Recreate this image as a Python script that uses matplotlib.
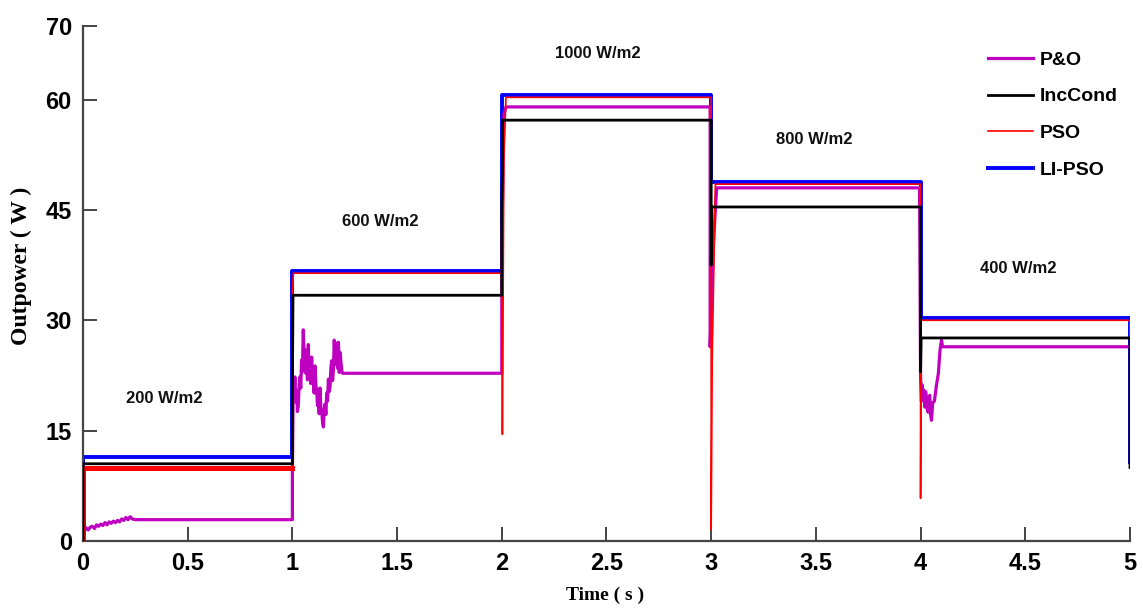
import matplotlib
matplotlib.use("Agg")
import matplotlib.pyplot as plt

# ---- data (time in s, power in W) ----
# P&O: slow start, oscillating transients after each irradiance change
po_t = [0.0, 0.005, 0.015, 0.025, 0.035, 0.045, 0.055, 0.065, 0.075, 0.085, 0.095, 0.105,
        0.115, 0.125, 0.135, 0.145, 0.155, 0.165, 0.175, 0.185, 0.195, 0.205, 0.215, 0.225,
        0.235, 0.25,
        1.0, 1.0, 1.004, 1.008, 1.012, 1.016, 1.02, 1.024, 1.028, 1.032, 1.036, 1.04, 1.044,
        1.048, 1.052, 1.056, 1.06, 1.064, 1.068, 1.072, 1.076, 1.08, 1.084, 1.088, 1.092,
        1.096, 1.10, 1.104, 1.108, 1.112, 1.116, 1.12, 1.124, 1.128, 1.132, 1.136, 1.14,
        1.144, 1.148, 1.152, 1.156, 1.16, 1.164, 1.168, 1.172, 1.176, 1.18, 1.184, 1.188,
        1.192, 1.196, 1.20, 1.204, 1.208, 1.212, 1.216, 1.22, 1.224, 1.228, 1.232, 1.236, 1.24,
        2.0, 2.0, 2.01, 2.02,
        2.995, 2.995, 3.01, 3.026,
        3.995, 4.0, 4.004, 4.008, 4.012, 4.016, 4.02, 4.024, 4.028, 4.032, 4.036, 4.04, 4.044,
        4.048, 4.052, 4.058, 4.066, 4.075, 4.085, 4.093, 4.10, 4.105, 5.0]
po_p = [0.5, 1.3, 1.8, 1.5, 1.9, 2.0, 1.7, 2.2, 2.0, 2.3, 2.1, 2.5,
        2.2, 2.6, 2.4, 2.7, 2.5, 2.8, 2.6, 3.0, 2.8, 3.2, 2.9, 3.3,
        3.0, 2.9,
        2.9, 9.0, 21.4, 19.6, 22.3, 18.9, 20.5, 17.6, 18.3, 21.0, 22.3, 20.8, 24.6,
        23.0, 28.7, 25.2, 26.0, 22.8, 24.2, 21.9, 26.7, 23.1, 23.5, 21.4, 25.0,
        22.6, 22.0, 20.1, 23.8, 21.2, 20.6, 18.4, 19.2, 17.3, 20.8, 18.1, 17.8,
        16.2, 15.5, 17.9, 18.6, 17.2, 20.1, 19.0, 22.0, 20.3, 21.0, 23.6, 24.5,
        21.8, 23.2, 27.3, 24.0, 24.8, 26.9, 23.5, 27.0, 22.9, 25.6, 24.3, 23.1, 22.8,
        22.8, 40.0, 58.0, 59.0,
        59.0, 26.4, 40.0, 48.0,
        48.0, 22.3, 19.0, 21.2, 19.5, 20.5, 18.2, 20.3, 19.6, 17.9, 17.5, 19.4, 19.8,
        17.2, 16.4, 18.8, 19.0, 21.0, 22.8, 26.0, 27.3, 26.4, 26.4]

# IncCond
inc_t = [0.0, 0.0, 1.0, 1.0, 1.003, 1.003, 2.0, 2.0, 2.0, 2.003, 2.003,
         3.0, 3.0, 3.0, 3.003, 4.0, 4.0, 4.0, 4.003, 5.0, 5.0]
inc_p = [0.0, 10.5, 10.5, 20.0, 33.4, 33.4, 33.4, 37.0, 45.0, 50.0, 57.2,
         57.2, 42.7, 37.5, 45.4, 45.4, 35.0, 23.0, 27.6, 27.6, 10.0]

# PSO
pso_t = [0.0, 0.0, 1.0, 1.0, 1.005, 2.0, 2.003, 2.01, 2.02, 2.02,
         3.0, 3.0, 3.005, 3.02, 4.0, 4.0, 4.003, 5.0, 5.0]
pso_p = [0.0, 9.9, 9.9, 34.0, 36.4, 36.4, 14.5, 52.0, 60.3, 60.3,
         60.3, 1.5, 25.0, 48.5, 48.5, 5.8, 30.0, 30.0, 10.0]

# LI-PSO
li_t = [0.0, 0.0, 1.0, 1.0, 2.0, 2.0, 3.0, 3.0, 4.0, 4.0, 5.0, 5.0]
li_p = [0.0, 11.4, 11.4, 36.7, 36.7, 60.6, 60.6, 48.8, 48.8, 30.3, 30.3, 10.7]

# irradiance labels (text, t, P)
irr_labels = ["200 W/m2", "600 W/m2", "1000 W/m2", "800 W/m2", "400 W/m2"]
irr_t = [0.39, 1.42, 2.46, 3.49, 4.465]
irr_p = [19.4, 43.4, 66.3, 54.6, 37.1]

x_ticks = [0, 0.5, 1, 1.5, 2, 2.5, 3, 3.5, 4, 4.5, 5]
x_tick_labels = ["0", "0.5", "1", "1.5", "2", "2.5", "3", "3.5", "4", "4.5", "5"]
y_ticks = [0, 15, 30, 45, 60, 70]

fig = plt.figure(figsize=(11.43, 6.10), dpi=100)
ax = fig.add_axes([0.0726, 0.1131, 0.916, 0.8443])

ax.plot(li_t, li_p, color="#0000ff", lw=2.8, label="LI-PSO", zorder=2)
ax.plot(po_t, po_p, color="#c000c0", lw=2.3, label="P&O", zorder=3)
# PSO oscillation band during the first interval
ax.plot(pso_t[:3], pso_p[:3], color="#ff0000", lw=3.6, zorder=3.5)
ax.plot(pso_t, pso_p, color="#ff0000", lw=1.2, label="PSO", zorder=3.6)
ax.plot(inc_t, inc_p, color="#000000", lw=2.0, label="IncCond", zorder=4)

for txt, t, p in zip(irr_labels, irr_t, irr_p):
    ax.text(t, p, txt, ha="center", va="center", fontsize=12, fontweight="bold",
            family="Liberation Sans", color="#111111")

ax.set_xlim(0, 5)
ax.set_ylim(0, 70)
ax.set_xticks(x_ticks)
ax.set_xticklabels(x_tick_labels)
ax.set_yticks(y_ticks)

for s in ("top", "right"):
    ax.spines[s].set_visible(False)
for s in ("left", "bottom"):
    ax.spines[s].set_color("#444444")
    ax.spines[s].set_linewidth(1.6)

ax.tick_params(direction="in", length=10, width=1.4, color="#444444", pad=8)
for lbl in ax.get_xticklabels() + ax.get_yticklabels():
    lbl.set_family("Liberation Sans")
    lbl.set_fontweight("bold")
    lbl.set_fontsize(17)

ax.set_xlabel("Time ( s )", family="Liberation Serif", fontweight="bold", fontsize=14)
ax.xaxis.set_label_coords(0.4985, -0.088)
ax.set_ylabel("Outpower ( W )", family="Liberation Serif", fontweight="bold", fontsize=17)
ax.yaxis.set_label_coords(-0.049, 0.534)

handles, labels = ax.get_legend_handles_labels()
order = ["P&O", "IncCond", "PSO", "LI-PSO"]
hmap = dict(zip(labels, handles))
leg = ax.legend([hmap[k] for k in order], order, loc="upper right",
                bbox_to_anchor=(1.005, 0.985), frameon=False, handlelength=2.3,
                handletextpad=0.35, labelspacing=0.98,
                prop={"family": "Liberation Sans", "weight": "bold", "size": 14})

fig.savefig("out.png", dpi=100)
